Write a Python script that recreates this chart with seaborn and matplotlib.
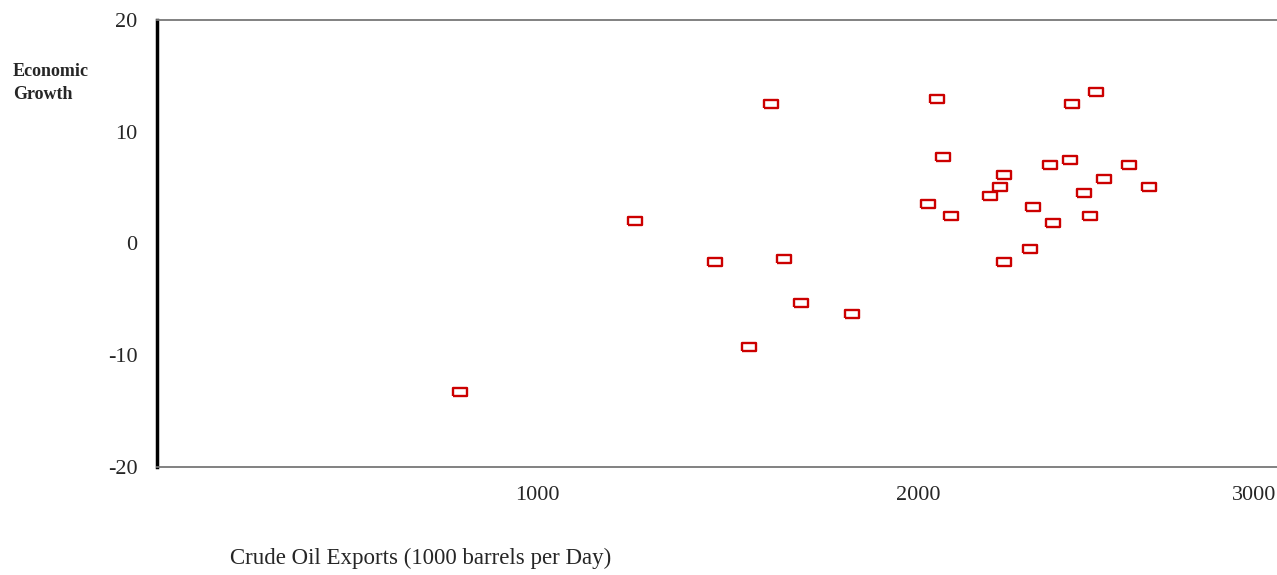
import numpy as np
import pandas as pd
import matplotlib
matplotlib.use("Agg")
import matplotlib.pyplot as plt
import matplotlib.transforms as mtransforms
import seaborn as sns

# data
oil_exports = [795, 1257, 1465, 1554, 1612, 1648, 1693, 1827, 2026, 2050,
               2066, 2087, 2189, 2215, 2226, 2226, 2294, 2302, 2346, 2354,
               2399, 2404, 2436, 2451, 2467, 2488, 2554, 2606]
econ_growth = [-13.3, 2.0, -1.7, -9.3, 12.5, -1.4, -5.3, -6.3, 3.5, 12.9,
               7.7, 2.5, 4.25, 5.05, 6.1, -1.65, -0.5, 3.3, 7.0, 1.8,
               7.5, 12.5, 4.5, 2.5, 13.6, 5.8, 7.0, 5.05]
x_ticks = [1000, 2000, 3000]
y_ticks = [-20, -10, 0, 10, 20]

df = pd.DataFrame({'exports': oil_exports, 'growth': econ_growth})

sns.set_style('white')
plt.rcParams['font.family'] = ['Liberation Serif', 'DejaVu Serif']
plt.rcParams['axes.unicode_minus'] = False

fig = plt.figure(figsize=(12.77, 5.75), dpi=100)
# the original axis runs 0..3000 and is cropped a little at the right edge
ax = fig.add_axes([157 / 1277, 1 - 467 / 575, (1299 - 157) / 1277, (467 - 20) / 575])

# small hollow rectangle marker like the original
rect = [(-1, -0.5), (1, -0.5), (1, 0.5), (-1, 0.5), (-1, -0.5)]
sns.scatterplot(data=df, x='exports', y='growth', ax=ax, marker=rect, s=105,
                facecolor='white', edgecolor='#cc0000', linewidth=1.7)

ax.set_xlim(0, 3000)
ax.set_ylim(-20, 20)
ax.set_xticks(x_ticks)
ax.set_yticks(y_ticks)
ax.tick_params(axis='x', length=3, width=3, color='#555555', labelsize=16, pad=11)
ax.tick_params(axis='y', length=4, width=1.5, color='black', labelsize=16, pad=10)

# keep the last x label inside the picture, as in the original
last = ax.get_xticklabels()[-1]
last.set_ha('right')
last.set_transform(last.get_transform() + mtransforms.ScaledTranslation(-0.23, 0, fig.dpi_scale_trans))

for side in ['top', 'bottom']:
    ax.spines[side].set_color('#777777')
    ax.spines[side].set_linewidth(1.3)
ax.spines['left'].set_color('black')
ax.spines['left'].set_linewidth(2.5)
ax.spines['right'].set_visible(False)

ax.set_xlabel('Crude Oil Exports (1000 barrels per Day)', fontsize=16.5, ha='left', va='center')
ax.xaxis.set_label_coords((230 - 157) / 1142, -0.205)
ax.set_ylabel('Economic\nGrowth', fontsize=13, fontweight='bold', rotation=0,
              ha='left', va='center', linespacing=1.45)
ax.yaxis.set_label_coords(-0.126, 0.86)

fig.savefig('out.png', dpi=100)
